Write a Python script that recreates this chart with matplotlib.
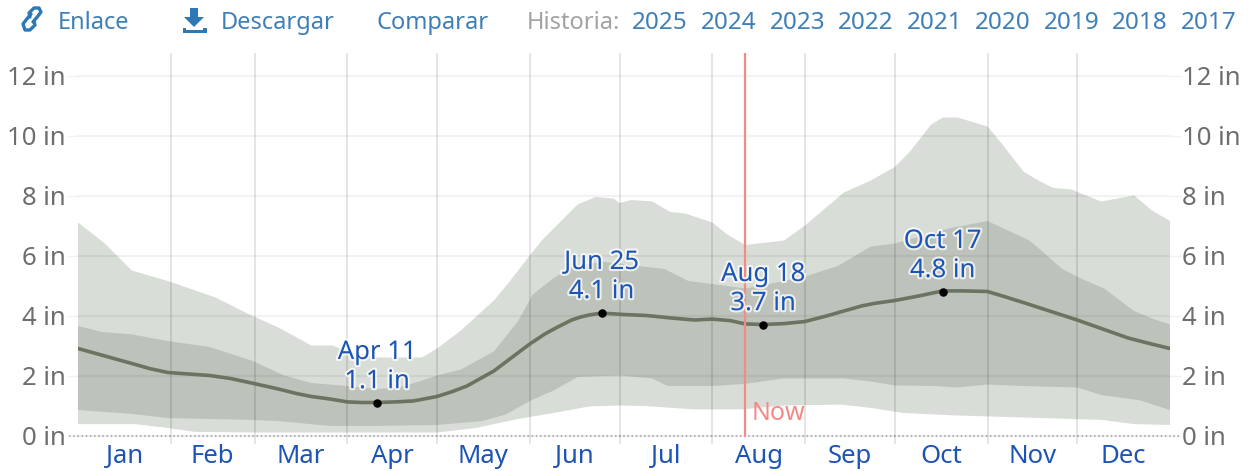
import numpy as np
import matplotlib.pyplot as plt
import matplotlib.patheffects as pe
from matplotlib.patches import Polygon

plt.rcParams['font.family'] = ['Noto Sans', 'DejaVu Sans']

canvas_size = (1248, 471)

months = ['Jan', 'Feb', 'Mar', 'Apr', 'May', 'Jun', 'Jul', 'Aug', 'Sep', 'Oct', 'Nov', 'Dec']
month_days = [31, 28, 31, 30, 31, 30, 31, 31, 30, 31, 30, 31]
y_ticks = [0, 2, 4, 6, 8, 10, 12]
years = ['2025', '2024', '2023', '2022', '2021', '2020', '2019', '2018', '2017']
now_day = 223

# day of year / inches
p90_days = [0, 9, 18, 30, 46, 58, 67, 78, 85, 90, 100, 115, 120, 128, 139, 144, 151, 155, 159, 167, 173, 179, 181, 185,
            192, 198, 203, 212, 217, 223, 236, 243, 256, 265, 273, 278, 285, 289, 294, 304, 309, 316, 321, 326, 332,
            342, 353, 359, 365]
p90 = [7.1, 6.4, 5.5, 5.15, 4.6, 4.0, 3.6, 3.0, 3.0, 2.8, 2.6, 2.6, 2.9, 3.5, 4.5, 5.1, 6.0, 6.5, 6.9, 7.7, 7.95, 7.9,
       7.75, 7.85, 7.8, 7.45, 7.4, 7.1, 6.7, 6.35, 6.5, 7.0, 8.1, 8.5, 8.95, 9.45, 10.35, 10.6, 10.6, 10.3, 9.7, 8.8,
       8.5, 8.25, 8.2, 7.8, 8.0, 7.5, 7.15]

p75_days = [0, 8, 18, 30, 44, 58, 69, 78, 90, 100, 107, 114, 120, 128, 139, 147, 152, 159, 165, 175, 196, 204, 212, 223,
            236, 243, 254, 265, 273, 291, 304, 318, 321, 329, 336, 343, 353, 359, 365]
p75 = [3.65, 3.45, 3.37, 3.15, 2.95, 2.5, 2.0, 1.75, 1.65, 1.55, 1.6, 1.8, 2.0, 2.2, 2.8, 3.8, 4.7, 5.25, 5.6, 5.8,
       5.55, 5.15, 5.05, 4.9, 5.15, 5.3, 5.65, 6.3, 6.4, 6.9, 7.15, 6.5, 6.25, 5.55, 5.2, 4.9, 4.15, 3.9, 3.7]

median_days = [0, 9, 18, 24, 30, 37, 44, 51, 58, 67, 73, 78, 84, 90, 95, 100, 106, 112, 120, 125, 130, 139, 145, 151,
               156, 160, 165, 168, 171, 175, 183, 190, 198, 206, 212, 218, 223, 229, 236, 243, 250, 256, 262, 266, 273,
               281, 289, 296, 304, 310, 317, 334, 351, 358, 365]
median = [2.9, 2.65, 2.4, 2.23, 2.1, 2.05, 2.0, 1.9, 1.75, 1.55, 1.4, 1.3, 1.22, 1.12, 1.1, 1.1, 1.12, 1.15, 1.3, 1.46,
          1.65, 2.15, 2.6, 3.05, 3.38, 3.6, 3.85, 3.95, 4.02, 4.08, 4.03, 4.0, 3.92, 3.85, 3.88, 3.83, 3.72, 3.7, 3.73,
          3.8, 3.98, 4.15, 4.32, 4.4, 4.5, 4.65, 4.82, 4.82, 4.8, 4.62, 4.4, 3.85, 3.25, 3.07, 2.9]

p25_days = [0, 18, 30, 44, 58, 67, 84, 100, 120, 135, 143, 151, 159, 167, 181, 192, 197, 212, 223, 236, 256, 265, 273,
            286, 294, 304, 316, 334, 342, 355, 365]
p25 = [0.85, 0.72, 0.58, 0.55, 0.52, 0.48, 0.32, 0.32, 0.35, 0.48, 0.7, 1.15, 1.5, 1.95, 2.0, 1.9, 1.65, 1.65, 1.72,
       1.9, 1.9, 1.8, 1.67, 1.65, 1.6, 1.7, 1.65, 1.6, 1.35, 1.17, 0.85]

p10_days = [0, 19, 30, 39, 59, 120, 133, 147, 159, 171, 181, 190, 206, 222, 236, 255, 265, 276, 293, 316, 342, 353, 365]
p10 = [0.38, 0.38, 0.25, 0.12, 0.1, 0.1, 0.25, 0.55, 0.75, 0.97, 1.0, 0.98, 0.87, 0.87, 1.0, 1.03, 0.92, 0.75, 0.67,
       0.6, 0.52, 0.38, 0.35]

highlight_days = [100, 175, 229, 289]
highlight_values = [1.1, 4.1, 3.7, 4.8]
highlight_labels = ['Apr 11\n1.1 in', 'Jun 25\n4.1 in', 'Aug 18\n3.7 in', 'Oct 17\n4.8 in']

fig = plt.figure(figsize=(canvas_size[0] / 100, canvas_size[1] / 100), dpi=100)

# axes box in pixels: x 78..1170, y 53..444, 30 px per inch with 0 at y=435.5
ax = fig.add_axes([78 / 1248, (471 - 444) / 471, 1092 / 1248, 391 / 471])
ax.set_xlim(0, 365)
ax.set_ylim(-8.5 / 30, 382.5 / 30)

ax.fill(np.r_[p90_days, p10_days[::-1]], np.r_[p90, p10[::-1]], color='#d9ddd8', lw=0, zorder=1)
ax.fill(np.r_[p75_days, p25_days[::-1]], np.r_[p75, p25[::-1]], color='#bdc3bb', lw=0, zorder=1.1)

month_edges = np.cumsum(month_days)
ax.set_xticks(month_edges[:-1])
ax.set_xticklabels([])
ax.set_xticks(month_edges - np.array(month_days) / 2, labels=months, minor=True)
ax.tick_params(axis='x', which='major', length=0)
ax.tick_params(axis='x', which='minor', length=0, pad=0, labelsize=18.5, labelcolor='#1d55b4')
ax.set_yticks(y_ticks, labels=[f'{v} in' for v in y_ticks])
ax.tick_params(axis='y', length=8, width=1, color=(0, 0, 0, 0.05), pad=1, labelsize=18.5, labelcolor='#6e6e6e',
               labelleft=True, labelright=True, left=True, right=True)
ax.grid(axis='x', which='major', color='black', alpha=0.12, lw=1.2, zorder=2)
ax.grid(axis='y', which='major', color='black', alpha=0.05, lw=1.5, zorder=2)
ax.set_axisbelow(False)
for spine in ax.spines.values():
    spine.set_visible(False)

ax.plot([-3, 368], [0, 0], color='#b0b0b0', lw=1.2, ls=(0, (1, 1.5)), clip_on=False, zorder=2.1)
ax.plot(median_days, median, color='#6b7361', lw=2.6, zorder=3)
ax.plot([now_day, now_day], [0, 382.5 / 30], color='#f48a86', lw=1.6, zorder=4)
ax.annotate('Now', (now_day, 0.72), xytext=(5, 0), textcoords='offset points', va='center', fontsize=18,
            color='#f48a86', zorder=4)

ax.scatter(highlight_days, highlight_values, s=26, color='black', zorder=5)
for day, value, label in zip(highlight_days, highlight_values, highlight_labels):
    ax.annotate(label, (day, value), xytext=(0, 6), textcoords='offset points', ha='center', va='bottom',
                fontsize=18.5, color='#1d55b4', linespacing=1.22, zorder=6,
                path_effects=[pe.withStroke(linewidth=3, foreground='white', alpha=0.75)])

# toolbar, drawn in pixel coordinates
bar = fig.add_axes([0, 0, 1, 1], zorder=-1)
bar.set_xlim(0, canvas_size[0])
bar.set_ylim(canvas_size[1], 0)
bar.axis('off')

link_color = '#3f7fb8'
bar.text(58, 23, 'Enlace', color=link_color, fontsize=17, va='center')
bar.text(221, 23, 'Descargar', color=link_color, fontsize=17, va='center')
bar.text(377, 23, 'Comparar', color=link_color, fontsize=17, va='center')
bar.text(527, 23, 'Historia:', color='#a3a3a3', fontsize=17, va='center')
for i, year in enumerate(years):
    bar.text(660 + i * 68.6, 23, year, color=link_color, fontsize=17.5, ha='center', va='center')

# link icon
bar.plot([33, 38, 41, 39, 34, 29, 30], [22, 16, 12, 8, 8, 13, 17], color='#2f78b7', lw=2.4, solid_capstyle='round')
bar.plot([31, 26, 23, 25, 30, 35, 34], [14, 20, 24, 30, 30, 25, 21], color='#2f78b7', lw=2.4, solid_capstyle='round')
# download icon
bar.add_patch(Polygon([(190, 8), (198, 8), (198, 17), (204, 17), (194, 27), (184, 17), (190, 17)], color='#2f78b7', lw=0))
bar.add_patch(Polygon([(183, 28), (186, 28), (186, 30), (203, 30), (203, 28), (207, 28), (207, 33), (183, 33)],
                      color='#2f78b7', lw=0))

plt.savefig('out.png', dpi=100)
